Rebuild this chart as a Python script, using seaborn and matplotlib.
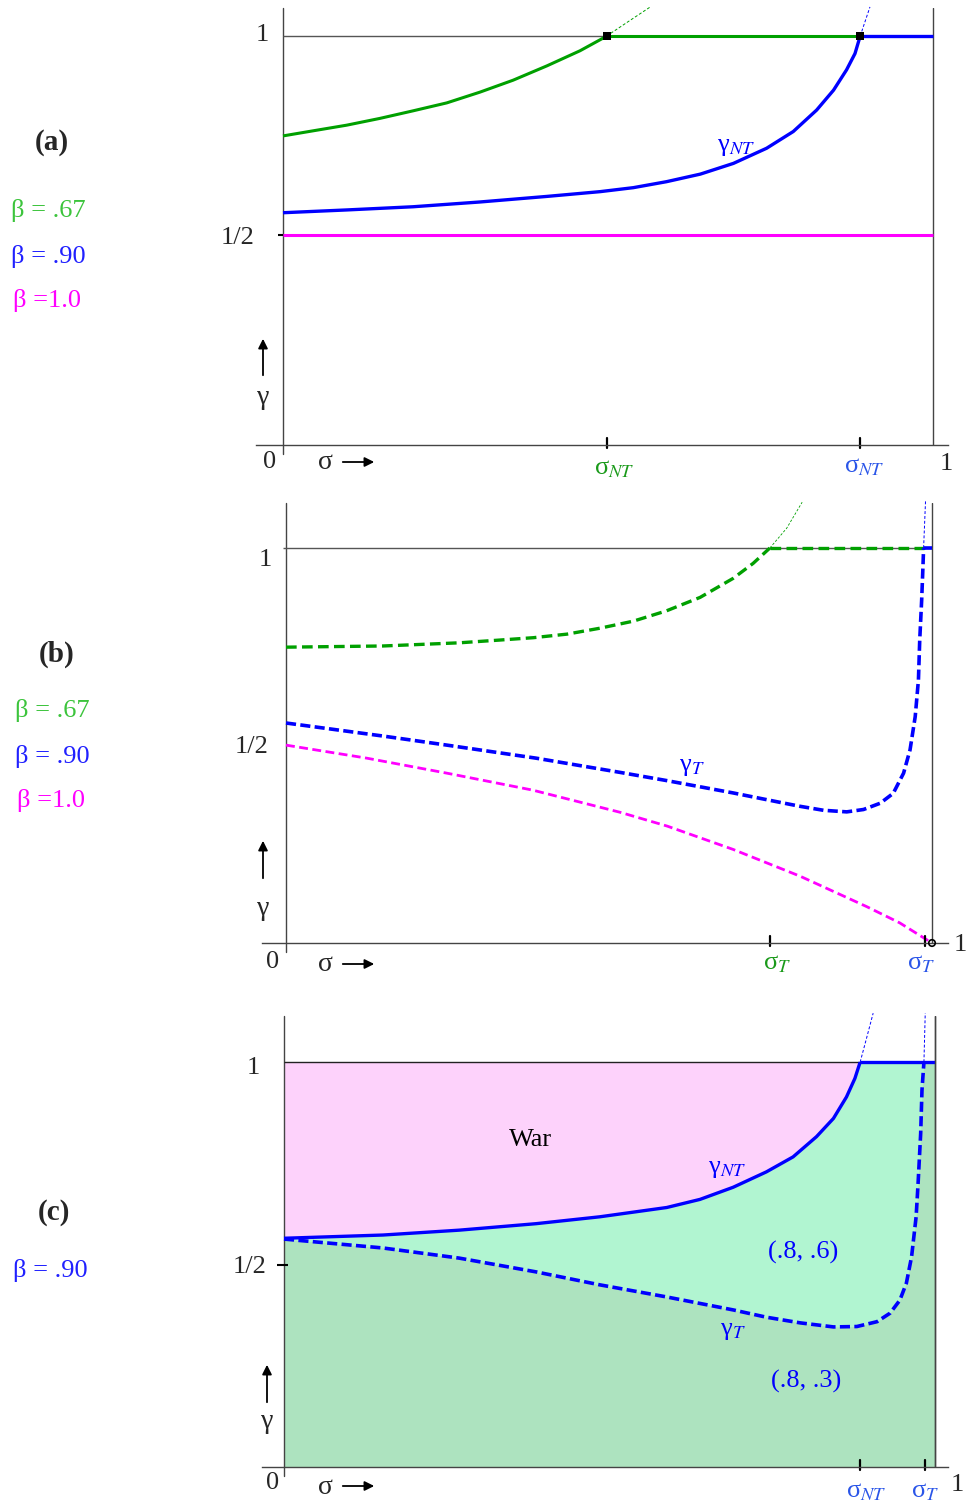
import matplotlib
matplotlib.use('Agg')
import matplotlib.pyplot as plt
import seaborn as sns

# ---- values: sigma on x, gamma on y ----
# panel (a): gamma_NT for beta = .67 (green), .90 (blue), 1.0 (magenta)
a_green_sig = [0.0, 0.047, 0.098, 0.149, 0.200, 0.252, 0.303, 0.354, 0.406, 0.457, 0.495, 0.498]
a_green_gam = [0.749, 0.762, 0.776, 0.793, 0.812, 0.832, 0.859, 0.889, 0.925, 0.963, 0.997, 1.0]
a_green_ext_sig = [0.498, 0.53, 0.565]
a_green_ext_gam = [1.0, 1.035, 1.073]
a_blue_sig = [0.0, 0.098, 0.200, 0.303, 0.406, 0.488, 0.539, 0.590, 0.642, 0.693,
              0.744, 0.785, 0.821, 0.847, 0.867, 0.880, 0.888]
a_blue_gam = [0.556, 0.563, 0.571, 0.583, 0.597, 0.609, 0.619, 0.634, 0.653, 0.680,
              0.718, 0.760, 0.814, 0.864, 0.915, 0.956, 1.0]
a_blue_ext_sig = [0.888, 0.903]
a_blue_ext_gam = [1.0, 1.073]
a_magenta_sig = [0.0, 1.0]
a_magenta_gam = [0.5, 0.5]
a_sigma_nt = [0.498, 0.888]

# panel (b): gamma_T
b_green_sig = [0.0, 0.150, 0.268, 0.331, 0.383, 0.435, 0.486, 0.538, 0.589, 0.641, 0.692, 0.723, 0.749]
b_green_gam = [0.749, 0.752, 0.760, 0.767, 0.773, 0.782, 0.797, 0.815, 0.841, 0.875, 0.923, 0.961, 1.0]
b_green_ext_sig = [0.749, 0.775, 0.799]
b_green_ext_gam = [1.0, 1.05, 1.116]
b_blue_sig = [0.0, 0.150, 0.249, 0.387, 0.517, 0.590, 0.692, 0.765, 0.796, 0.832, 0.868,
              0.894, 0.920, 0.940, 0.956, 0.966, 0.974, 0.979, 0.981, 0.984, 0.986, 0.987]
b_blue_gam = [0.557, 0.524, 0.501, 0.468, 0.432, 0.411, 0.380, 0.356, 0.346, 0.336, 0.332,
              0.338, 0.354, 0.379, 0.430, 0.489, 0.573, 0.666, 0.767, 0.868, 0.953, 1.0]
b_blue_ext_sig = [0.987, 0.990]
b_blue_ext_gam = [1.0, 1.12]
b_magenta_sig = [0.0, 0.125, 0.249, 0.382, 0.517, 0.590, 0.692, 0.796, 0.899, 0.950, 0.997]
b_magenta_gam = [0.501, 0.468, 0.430, 0.387, 0.331, 0.296, 0.237, 0.169, 0.092, 0.051, 0.003]
b_sigma_t = [0.749, 0.989]

# panel (c): beta = .90, regions
c_nt_sig = [0.0, 0.152, 0.269, 0.387, 0.485, 0.588, 0.639, 0.690, 0.741, 0.782,
            0.818, 0.844, 0.864, 0.877, 0.885]
c_nt_gam = [0.565, 0.573, 0.585, 0.601, 0.618, 0.641, 0.661, 0.691, 0.729, 0.766,
            0.816, 0.861, 0.914, 0.960, 1.0]
c_nt_ext_sig = [0.885, 0.895, 0.905]
c_nt_ext_gam = [1.0, 1.06, 1.121]
c_t_sig = [0.0, 0.152, 0.269, 0.387, 0.485, 0.588, 0.639, 0.690, 0.741, 0.793, 0.844,
           0.880, 0.911, 0.931, 0.946, 0.956, 0.964, 0.971, 0.974, 0.978, 0.980, 0.983]
c_t_gam = [0.563, 0.541, 0.516, 0.482, 0.450, 0.420, 0.404, 0.388, 0.370, 0.356, 0.346,
           0.347, 0.359, 0.380, 0.412, 0.454, 0.519, 0.618, 0.700, 0.824, 0.931, 1.0]
c_t_ext_sig = [0.983, 0.985]
c_t_ext_gam = [1.0, 1.121]
c_sigma = [0.885, 0.985]

GREEN = '#00a000'
BLUE = '#0000ff'
MAGENTA = '#ff00ff'
LBL_GREEN = '#3cc43c'
LBL_BLUE = '#2020ff'
TICK_GREEN = '#1a9a1a'
TICK_BLUE = '#2a55e8'
AXC = '#444444'

sns.set_style('white')
plt.rcParams['font.family'] = ['Liberation Serif', 'DejaVu Serif']
plt.rcParams['mathtext.fontset'] = 'stix'

W, H = 973, 1511
fig = plt.figure(figsize=(W / 100, H / 100), dpi=100)


def make_ax(left, right, top, bottom, xlim, ylim):
    ax = fig.add_axes([left / W, 1 - bottom / H, (right - left) / W, (bottom - top) / H])
    ax.set_xlim(*xlim)
    ax.set_ylim(*ylim)
    ax.set_xticks([])
    ax.set_yticks([])
    for s in ['top', 'right', 'left']:
        ax.spines[s].set_visible(False)
    ax.spines['bottom'].set_color(AXC)
    ax.spines['bottom'].set_linewidth(1.0)
    ax.patch.set_alpha(0)
    ax.axvline(0, ymin=-0.02, ymax=1, color=AXC, lw=1.0, clip_on=False)
    ax.axvline(1, ymin=0, ymax=1, color=AXC, lw=1.0)
    return ax


def line(ax, x, y, color, lw, dashes=None):
    sns.lineplot(x=x, y=y, ax=ax, color=color, linewidth=lw, sort=False,
                 estimator=None, clip_on=False)
    ln = ax.lines[-1]
    ln.set_solid_capstyle('butt')
    ln.set_solid_joinstyle('round')
    if dashes is not None:
        ln.set_dashes(dashes)
    return ln


def ftext(x, y, s, **kw):
    fig.text(x / W, 1 - (y + 2) / H, s, ha='center', va='center', **kw)


def farrow(x0, y0, x1, y1):
    fig.add_artist(matplotlib.patches.FancyArrowPatch(
        (x0 / W, 1 - y0 / H), (x1 / W, 1 - y1 / H), transform=fig.transFigure,
        arrowstyle='-|>', mutation_scale=14, lw=1.3, color='black'))


def sigma_arrow(y):
    ftext(325, y, 'σ', fontsize=20)
    farrow(340, y + 1, 377, y + 1)


def gamma_arrow(x, y_gamma, y_top, y_bot):
    ftext(x, y_gamma, 'γ', fontsize=20)
    farrow(x, y_bot, x, y_top)


def tick(ax, x):
    ax.axvline(x, ymin=-0.006, ymax=0.015, color='black', lw=1.6, clip_on=False)


FS = 19

# ================= panel (a) =================
axa = make_ax(256, 948, 8, 445, (-27 / 650, 665 / 650), (-0.0276, 1.0704))
axa.hlines(1, 0, 1, color='#555555', lw=1.0)
axa.hlines(0.5, -0.008, 0.0, color='black', lw=1.5, clip_on=False)
line(axa, a_magenta_sig, a_magenta_gam, MAGENTA, 2.2)
line(axa, a_blue_sig, a_blue_gam, BLUE, 2.4)
line(axa, [a_sigma_nt[1], 1.0], [1.0, 1.0], BLUE, 2.4)
line(axa, a_blue_ext_sig, a_blue_ext_gam, BLUE, 0.7, (3, 2))
line(axa, a_green_sig, a_green_gam, GREEN, 2.2)
line(axa, [a_sigma_nt[0], a_sigma_nt[1]], [1.0, 1.0], GREEN, 2.2)
line(axa, a_green_ext_sig, a_green_ext_gam, GREEN, 0.7, (3, 2))
sns.scatterplot(x=a_sigma_nt, y=[1.0, 1.0], ax=axa, color='black', marker='s', s=40,
                linewidth=0, zorder=5)
for x in a_sigma_nt:
    tick(axa, x)
axa.text(a_sigma_nt[0] + 0.012, -0.088, 'σ$_{NT}$', color=TICK_GREEN, fontsize=FS,
         ha='center', va='center')
axa.text(a_sigma_nt[1] + 0.006, -0.082, 'σ$_{NT}$', color=TICK_BLUE, fontsize=FS,
         ha='center', va='center')
axa.text(0.697, 0.72, 'γ$_{NT}$', color=BLUE, fontsize=FS, ha='center', va='center')

ftext(262, 33, '1', fontsize=FS)
ftext(238, 236, '1/2', fontsize=FS)
ftext(270, 460, '0', fontsize=FS)
ftext(946, 462, '1', fontsize=FS)
sigma_arrow(461)
gamma_arrow(263, 395, 336, 378)
ftext(52, 140, '(a)', fontsize=21, fontweight='bold')
ftext(48, 208, 'β = .67', fontsize=FS, color=LBL_GREEN)
ftext(48, 254, 'β = .90', fontsize=FS, color=LBL_BLUE)
ftext(47, 299, 'β =1.0', fontsize=FS, color=MAGENTA)

# ================= panel (b) =================
axb = make_ax(262, 948, 503, 943, (-24 / 646, 662 / 646), (0, 1.114))
axb.hlines(1, -0.005, 1, color='#555555', lw=1.0)
dash = (3.2, 1.6)
line(axb, b_magenta_sig, b_magenta_gam, MAGENTA, 2.0, dash)
line(axb, b_green_sig, b_green_gam, GREEN, 2.4, dash)
line(axb, [b_sigma_t[0], b_blue_sig[-1]], [1.0, 1.0], GREEN, 2.4, dash)
line(axb, b_green_ext_sig, b_green_ext_gam, GREEN, 0.6, (3, 2))
line(axb, b_blue_sig, b_blue_gam, BLUE, 2.6, (2.8, 1.2))
line(axb, [b_blue_sig[-1], 1.0], [1.0, 1.0], BLUE, 2.6)
line(axb, b_blue_ext_sig, b_blue_ext_gam, BLUE, 0.7, (3, 2))
for x in b_sigma_t:
    tick(axb, x)
sns.scatterplot(x=[1.0], y=[0.0], ax=axb, marker='o', s=22, facecolor='none',
                edgecolor='black', linewidth=1.2, zorder=6, clip_on=False)
axb.text(b_sigma_t[0] + 0.012, -0.052, 'σ$_{T}$', color=TICK_GREEN, fontsize=FS,
         ha='center', va='center')
axb.text(b_sigma_t[1] - 0.006, -0.052, 'σ$_{T}$', color=TICK_BLUE, fontsize=FS,
         ha='center', va='center')
axb.text(0.628, 0.446, 'γ$_{T}$', color=BLUE, fontsize=FS, ha='center', va='center')

ftext(265, 558, '1', fontsize=FS)
ftext(252, 745, '1/2', fontsize=FS)
ftext(273, 960, '0', fontsize=FS)
ftext(960, 943, '1', fontsize=FS)
sigma_arrow(963)
gamma_arrow(263, 907, 838, 881)
ftext(57, 652, '(b)', fontsize=21, fontweight='bold')
ftext(52, 708, 'β = .67', fontsize=FS, color=LBL_GREEN)
ftext(52, 754, 'β = .90', fontsize=FS, color=LBL_BLUE)
ftext(51, 798, 'β =1.0', fontsize=FS, color=MAGENTA)

# ================= panel (c) =================
axc = make_ax(262, 948, 1016, 1467, (-22 / 651, 664 / 651), (0, 1.114))
axc.fill_between([0, 1], [0, 0], [1, 1], color='#ade3bf', lw=0)
axc.fill_between(c_t_sig + [1.0], c_t_gam + [1.0], 1, color='#b1f5d1', lw=0)
axc.fill_between(c_nt_sig, c_nt_gam, 1, color='#fdd2fb', lw=0)
axc.hlines(1, 0, 1, color='#222222', lw=1.0)
axc.hlines(0.5, -0.01, 0.006, color='black', lw=1.5, clip_on=False)
line(axc, c_nt_sig, c_nt_gam, BLUE, 2.4)
line(axc, [c_sigma[0], 1.0], [1.0, 1.0], BLUE, 2.4)
line(axc, c_nt_ext_sig, c_nt_ext_gam, BLUE, 0.7, (3, 2))
line(axc, c_t_sig, c_t_gam, BLUE, 2.6, (2.8, 1.2))
line(axc, c_t_ext_sig, c_t_ext_gam, BLUE, 0.7, (3, 2))
axc.axvline(1, color=AXC, lw=1.0)
for x in c_sigma:
    tick(axc, x)
axc.text(c_sigma[0] + 0.01, -0.062, 'σ$_{NT}$', color=TICK_BLUE, fontsize=FS,
         ha='center', va='center')
axc.text(c_sigma[1] - 0.0, -0.062, 'σ$_{T}$', color=TICK_BLUE, fontsize=FS,
         ha='center', va='center')
axc.text(0.68, 0.735, 'γ$_{NT}$', color=BLUE, fontsize=FS, ha='center', va='center')
axc.text(0.69, 0.335, 'γ$_{T}$', color=BLUE, fontsize=FS, ha='center', va='center')
axc.text(0.379, 0.807, 'War', color='black', fontsize=FS, ha='center', va='center')
axc.text(0.797, 0.531, '(.8, .6)', color=BLUE, fontsize=FS, ha='center', va='center')
axc.text(0.802, 0.211, '(.8, .3)', color=BLUE, fontsize=FS, ha='center', va='center')

ftext(253, 1066, '1', fontsize=FS)
ftext(250, 1265, '1/2', fontsize=FS)
ftext(273, 1481, '0', fontsize=FS)
ftext(957, 1483, '1', fontsize=FS)
sigma_arrow(1485)
gamma_arrow(267, 1420, 1362, 1405)
ftext(54, 1211, '(c)', fontsize=21, fontweight='bold')
ftext(50, 1268, 'β = .90', fontsize=FS, color=LBL_BLUE)

fig.savefig('out.png', dpi=100)
